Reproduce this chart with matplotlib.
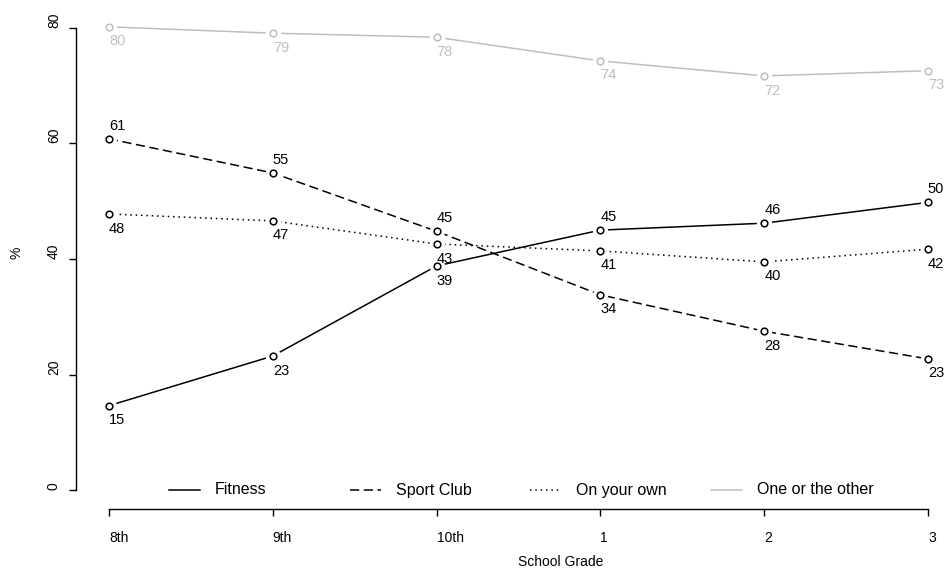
import matplotlib
matplotlib.use('Agg')
from matplotlib import pyplot as plt
from matplotlib.lines import Line2D

plt.rcParams['font.family'] = ['Liberation Sans', 'DejaVu Sans']
plt.rcParams['font.size'] = 10

grades = ['8th', '9th', '10th', '1', '2', '3']

fitness = [14.6, 23.2, 38.8, 45.0, 46.2, 49.8]
sport_club = [60.8, 54.9, 44.8, 33.8, 27.5, 22.7]
on_your_own = [47.8, 46.6, 42.6, 41.4, 39.5, 41.7]
one_or_other = [80.2, 79.1, 78.4, 74.3, 71.7, 72.6]

series_names = ['Fitness', 'Sport Club', 'On your own', 'One or the other']
series_values = [fitness, sport_club, on_your_own, one_or_other]

# styles
colors = ['black', 'black', 'black', '#bebebe']
dashes = [(None, None), (6, 3), (1, 2.5), (None, None)]
# where the value label goes: -1 below point, +1 above point
label_side = [
    [-1, -1, -1, 1, 1, 1],
    [1, 1, 1, -1, -1, -1],
    [-1, -1, -1, -1, -1, -1],
    [-1, -1, -1, -1, -1, -1],
]

fig = plt.figure(figsize=(9.44, 5.79), dpi=100)
W, H = 944, 579
ax = fig.add_axes([76.2 / W, (H - 508.5) / H, 884.5 / W, 499 / H])

x = list(range(len(grades)))

for name, vals, col, ds, sides in zip(series_names, series_values, colors, dashes, label_side):
    ln, = ax.plot(x, vals, color=col, lw=1.1, zorder=1)
    if ds[0] is not None:
        ln.set_dashes(ds)
    # white halo gives the gap around points (type="b" look)
    ax.plot(x, vals, ls='none', marker='o', ms=11, mfc='white', mec='none', zorder=2)
    ax.plot(x, vals, ls='none', marker='o', ms=4.8, mfc='white', mec=col, mew=1.1, zorder=3)
    for xi, v, s in zip(x, vals, sides):
        off = 9.5 if s > 0 else -10.5
        ax.annotate('%d' % round(v), (xi, v), xytext=(0, off), textcoords='offset points',
                    ha='left', va='center', color=col, fontsize=10.5)

ax.set_xlim(-0.2, 5.2)
ax.set_ylim(-3.2, 83.2)

for sp in ['top', 'right']:
    ax.spines[sp].set_visible(False)
ax.spines['left'].set_bounds(0, 80)
ax.spines['bottom'].set_bounds(0, 5)
ax.spines['left'].set_linewidth(1.0)
ax.spines['bottom'].set_linewidth(1.0)

ax.set_xticks(x)
ax.set_xticklabels(grades, ha='left')
ax.set_yticks([0, 20, 40, 60, 80])
ax.set_yticklabels(['0', '20', '40', '60', '80'], rotation=90, va='bottom')
ax.tick_params(axis='both', length=5, width=1.0, labelsize=10)
ax.tick_params(axis='x', pad=11)
ax.tick_params(axis='y', pad=6)

ax.set_xlabel('School Grade', fontsize=10, ha='left', va='center')
ax.xaxis.set_label_coords(0.5, -0.108)
ax.set_ylabel('%', fontsize=10, rotation=90, ha='left', va='center')
ax.yaxis.set_label_coords(-0.067, 0.5)

# horizontal legend along the bottom of the plot area
x0 = (169 - 76.2) / 884.5
step = 180.5 / 884.5
hl = 31 / 884.5
tgap = 15 / 884.5
ly = (508.5 - 490) / 499
for i, (name, col, ds) in enumerate(zip(series_names, colors, dashes)):
    lx = x0 + i * step
    h = Line2D([lx, lx + hl], [ly, ly], transform=ax.transAxes, color=col, lw=1.1)
    if ds[0] is not None:
        h.set_dashes(ds)
    ax.add_line(h)
    ax.text(lx + hl + tgap, ly, name, transform=ax.transAxes, ha='left', va='center', fontsize=11.5)

fig.savefig('out.png', dpi=100)
